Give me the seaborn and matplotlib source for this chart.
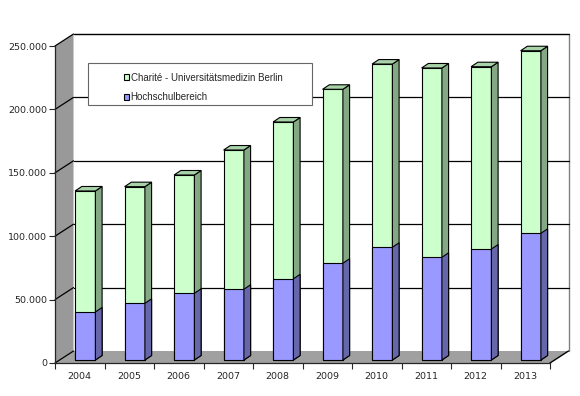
"""
Charité / Hochschulbereich, gestapelte Säulen mit 3D-Optik (Excel-Stil)
"""
import numpy as np
import pandas as pd
import matplotlib
matplotlib.use('Agg')
import matplotlib.pyplot as plt
from matplotlib.patches import Polygon, Rectangle
import seaborn as sns

# Daten
years = ['2004', '2005', '2006', '2007', '2008', '2009', '2010', '2011', '2012', '2013']
hochschul = [37900, 44700, 52600, 55800, 64000, 76300, 88900, 81000, 87500, 99900]
charite = [95400, 92000, 93300, 109800, 123700, 137200, 144500, 149300, 143800, 144000]
y_ticks = [0, 50000, 100000, 150000, 200000, 250000]

label_charite = 'Charité - Universitätsmedizin Berlin'
label_hochschul = 'Hochschulbereich'

# Farben
GREEN, GREEN_SIDE, GREEN_TOP = '#CCFFCC', '#84A884', '#A8D2A8'
BLUE, BLUE_SIDE = '#9999FF', '#6666AA'
WALL, FLOOR = '#999999', '#A0A0A0'

W, H = 580, 396
sns.set_style('white')
plt.rcParams['font.family'] = ['DejaVu Sans']

fig = plt.figure(figsize=(W / 100, H / 100), dpi=100)
# Frontebene: x 55..550 px, y=0 bei 363 px, 250.000 bei 46 px
ax = fig.add_axes([55 / W, (H - 363) / H, 495 / W, 317 / H])
ax.set_facecolor('none')

PXC = 495 / 10          # px je Kategorie
PXV = 317 / 250000      # px je Werteinheit


def px2data(dx, dy):
    return dx / PXC, dy / PXV


WX, WY = px2data(18.5, 12)   # Tiefe Rückwand
FX, FY = px2data(5.5, 3)     # Säulen-Vorderseite
DX, DY = px2data(6.7, 4.5)   # Säulentiefe

df = pd.DataFrame({'Jahr': years, 'Hochschul': hochschul, 'Charite': charite})
df['Gesamt'] = df['Hochschul'] + df['Charite']

sns.barplot(data=df, x='Jahr', y='Gesamt', color=GREEN, saturation=1, width=0.41,
            edgecolor='black', linewidth=0.8, label=label_charite, ax=ax, zorder=2)
n_green = len(ax.patches)
sns.barplot(data=df, x='Jahr', y='Hochschul', color=BLUE, saturation=1, width=0.41,
            edgecolor='black', linewidth=0.8, label=label_hochschul, ax=ax, zorder=3)
if ax.get_legend() is not None:
    ax.get_legend().remove()

ax.set_xlim(-0.5, 9.5)
ax.set_ylim(0, 250000)

# Rückwand, Boden, linke Wand
ax.add_patch(Rectangle((-0.5 + WX, WY), 10, 250000, facecolor='white', edgecolor='none',
                       zorder=0.1, clip_on=False))
ax.plot([-0.5 + WX, 9.5 + WX, 9.5 + WX], [250000 + WY, 250000 + WY, WY],
        color='#808080', lw=1, zorder=0.15, clip_on=False)
for v in y_ticks[1:]:
    ax.plot([-0.5 + WX, 9.5 + WX], [v + WY, v + WY], color='black', lw=0.9,
            zorder=0.2, clip_on=False)
ax.add_patch(Polygon([(-0.5, 0), (9.5, 0), (9.5 + WX, WY), (-0.5 + WX, WY)],
                     facecolor=FLOOR, edgecolor='none', zorder=0.3, clip_on=False))
ax.plot([9.5, 9.5 + WX], [0, WY], color='black', lw=1, zorder=0.35, clip_on=False)
ax.add_patch(Polygon([(-0.5, 0), (-0.5, 250000), (-0.5 + WX, 250000 + WY), (-0.5 + WX, WY)],
                     facecolor=WALL, edgecolor='none', zorder=0.3, clip_on=False))
for v in y_ticks:
    ax.plot([-0.5, -0.5 + WX], [v, v + WY], color='black', lw=0.9, zorder=0.35, clip_on=False)

# Säulen nach hinten versetzen, Seiten- und Deckflächen ergänzen
for i, p in enumerate(ax.patches[:2 * len(years)]):
    p.set_x(p.get_x() + FX)
    p.set_y(p.get_y() + FY)
    x0, x1 = p.get_x(), p.get_x() + p.get_width()
    y0, y1 = p.get_y(), p.get_y() + p.get_height()
    green = i < n_green
    z = 2 if green else 3
    ax.add_patch(Polygon([(x1, y0), (x1 + DX, y0 + DY), (x1 + DX, y1 + DY), (x1, y1)],
                         facecolor=GREEN_SIDE if green else BLUE_SIDE, edgecolor='black',
                         lw=0.8, zorder=z, clip_on=False))
    if green:
        ax.add_patch(Polygon([(x0, y1), (x1, y1), (x1 + DX, y1 + DY), (x0 + DX, y1 + DY)],
                             facecolor=GREEN_TOP, edgecolor='black', lw=0.8, zorder=z,
                             clip_on=False))

# Achsen
sns.despine(ax=ax, top=True, right=True)
ax.spines['left'].set_linewidth(0.9)
ax.spines['bottom'].set_linewidth(0.9)
ax.set_yticks(y_ticks)
ax.set_yticklabels([f'{v:,.0f}'.replace(',', '.') for v in y_ticks], fontsize=6.8)
ax.tick_params(axis='y', length=4, width=0.8, pad=1.5, left=True)
ax.set_xticks(range(len(years)))
ax.set_xticklabels(years, fontsize=6.8)
ax.set_xticks(np.arange(-0.5, 10, 1), minor=True)
ax.tick_params(axis='x', which='major', length=0, pad=6.5)
ax.tick_params(axis='x', which='minor', length=4, width=0.8, bottom=True)
ax.set_xlabel('')
ax.set_ylabel('')
ax.grid(False)

# Legende
fig.add_artist(Rectangle((88 / W, (H - 105) / H), 224 / W, 42 / H, transform=fig.transFigure,
                         facecolor='white', edgecolor='#666666', lw=0.8, zorder=5))
handles, labels = ax.get_legend_handles_labels()
leg = fig.legend(handles, labels, loc='upper left', bbox_to_anchor=(119 / W, 1 - 68 / H),
                 frameon=False, borderpad=0, handlelength=0.55, handleheight=0.55,
                 handletextpad=0.15, labelspacing=0.95,
                 prop={'family': 'Liberation Sans', 'size': 7})
leg.set_zorder(6)

fig.savefig('out.png', dpi=100, facecolor='white')
